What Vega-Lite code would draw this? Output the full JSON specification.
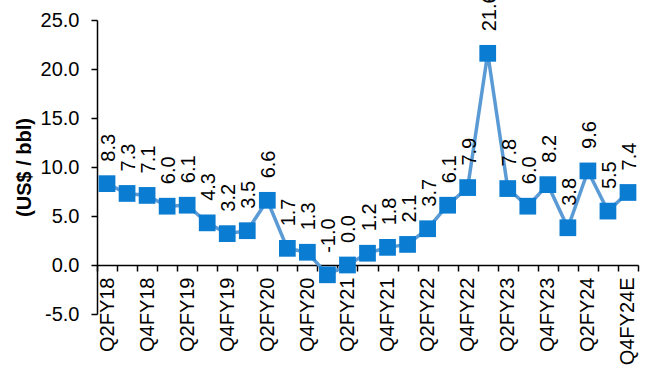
{
  "$schema": "https://vega.github.io/schema/vega-lite/v6.json",
  "width": 541,
  "height": 294,
  "autosize": "none",
  "padding": {"left": 97, "top": 20, "right": 12, "bottom": 64},
  "background": "white",
  "config": {"view": {"stroke": null}, "font": "Liberation Sans"},
  "data": {"values": [
    {"q": "Q2FY18", "v": 8.3}, {"q": "Q3FY18", "v": 7.3}, {"q": "Q4FY18", "v": 7.1},
    {"q": "Q1FY19", "v": 6.0}, {"q": "Q2FY19", "v": 6.1}, {"q": "Q3FY19", "v": 4.3},
    {"q": "Q4FY19", "v": 3.2}, {"q": "Q1FY20", "v": 3.5}, {"q": "Q2FY20", "v": 6.6},
    {"q": "Q3FY20", "v": 1.7}, {"q": "Q4FY20", "v": 1.3}, {"q": "Q1FY21", "v": -1.0},
    {"q": "Q2FY21", "v": 0.0}, {"q": "Q3FY21", "v": 1.2}, {"q": "Q4FY21", "v": 1.8},
    {"q": "Q1FY22", "v": 2.1}, {"q": "Q2FY22", "v": 3.7}, {"q": "Q3FY22", "v": 6.1},
    {"q": "Q4FY22", "v": 7.9}, {"q": "Q1FY23", "v": 21.6}, {"q": "Q2FY23", "v": 7.8},
    {"q": "Q3FY23", "v": 6.0}, {"q": "Q4FY23", "v": 8.2}, {"q": "Q1FY24", "v": 3.8},
    {"q": "Q2FY24", "v": 9.6}, {"q": "Q3FY24", "v": 5.5}, {"q": "Q4FY24E", "v": 7.4}
  ]},
  "transform": [{"calculate": "replace(format(datum.v, '.1f'), '\u2212', '-')", "as": "lbl"}],
  "encoding": {
    "x": {
      "field": "q", "type": "ordinal", "sort": null,
      "scale": {"paddingInner": 0, "paddingOuter": 0},
      "axis": {
        "title": null, "offset": -49, "grid": false,
        "domainColor": "black", "domainWidth": 1.5,
        "tickColor": "black", "tickWidth": 1.5, "tickSize": 6, "tickBand": "extent",
        "labelAngle": 270, "labelPadding": 6, "labelOverlap": false,
        "labelExpr": "test(/^Q[24]/, datum.value) ? datum.value : ''",
        "labelFontSize": 20, "labelColor": "black", "labelFont": "Liberation Sans"
      }
    },
    "y": {
      "field": "v", "type": "quantitative",
      "scale": {"domain": [-5, 25], "nice": false, "zero": false},
      "axis": {
        "values": [-5, 0, 5, 10, 15, 20, 25], "grid": false,
        "labelExpr": "replace(format(datum.value, '.1f'), '\u2212', '-')",
        "domainColor": "black", "domainWidth": 1.5,
        "tickColor": "black", "tickWidth": 1.5, "tickSize": 6,
        "labelPadding": 12, "labelFontSize": 20, "labelColor": "black", "labelFont": "Liberation Sans",
        "title": "(US$ / bbl)", "titleFontWeight": "bold", "titleFontSize": 20,
        "titleFont": "Liberation Sans", "titleColor": "black", "titlePadding": 6
      }
    }
  },
  "layer": [
    {"mark": {"type": "line", "color": "#5B9BD5", "strokeWidth": 3.5}},
    {"mark": {"type": "square", "size": 280, "color": "#0A7CD2", "opacity": 1, "filled": true}},
    {
      "mark": {"type": "text", "angle": 270, "align": "left", "baseline": "middle", "dx": 22, "dy": 2,
               "fontSize": 20, "font": "Liberation Sans", "color": "black"},
      "encoding": {"text": {"field": "lbl"}}
    }
  ]
}
